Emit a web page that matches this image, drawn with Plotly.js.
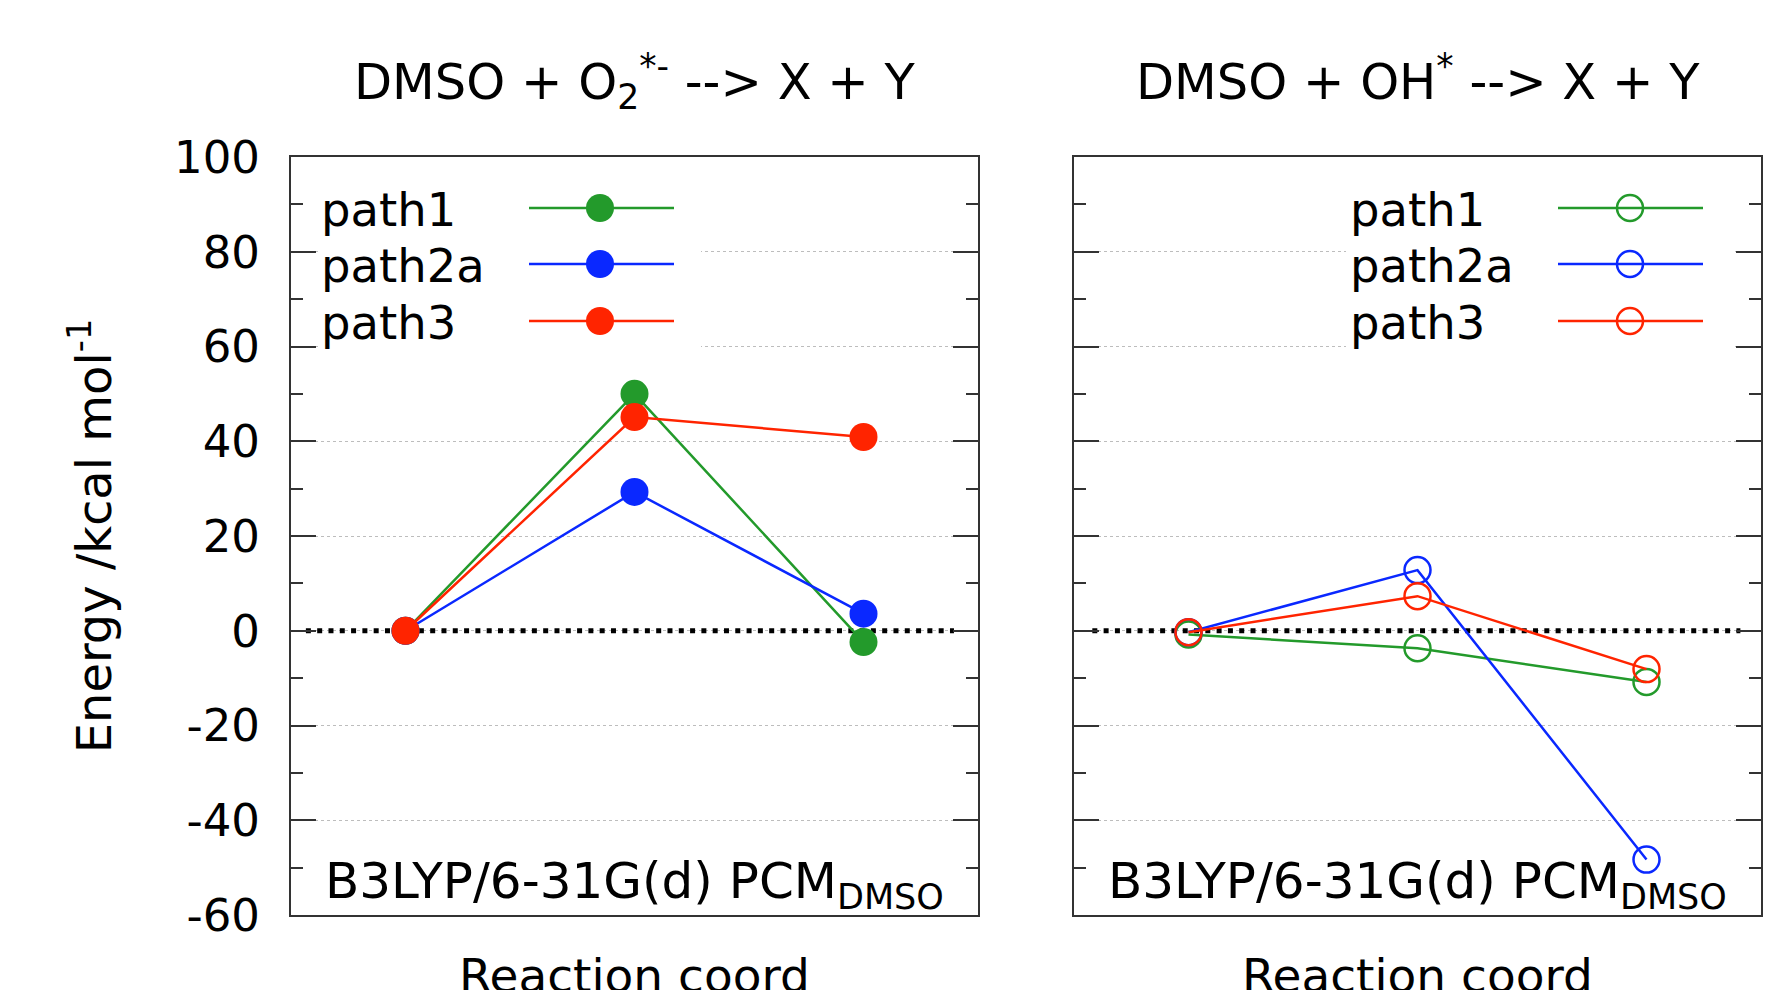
<!DOCTYPE html>
<html>
<head>
<meta charset="utf-8">
<script src="https://cdn.plot.ly/plotly-3.0.1.min.js"></script>
<style>html,body{margin:0;padding:0;background:#fff;}#chart{width:1775px;height:990px;}</style>
</head>
<body>
<div id="chart"></div>
<script>
// ---- data ----
const steps = [1, 2, 3];                       // reaction coordinate positions
const seriesNames = ['path1', 'path2a', 'path3'];
const seriesColors = ['#239a2b', '#0a28ff', '#ff2400'];
// Left panel: DMSO + O2*- --> X + Y  (kcal/mol)
const o2_path1  = [0, 50.0, -2.4];
const o2_path2a = [0, 29.3, 3.6];
const o2_path3  = [0, 45.1, 40.9];
// Right panel: DMSO + OH* --> X + Y  (kcal/mol)
const oh_path1  = [-0.8, -3.7, -10.8];
const oh_path2a = [-0.3, 12.8, -48.3];
const oh_path3  = [-0.3, 7.3, -8.1];
// zero reference line extents
const zeroLeftX  = [0.565, 3.395];
const zeroRightX = [0.58, 3.41];
const zeroY = [0, 0];
const yTickVals = [-60, -40, -20, 0, 20, 40, 60, 80, 100];
const yTickText = ['-60', '-40', '-20', '0', '20', '40', '60', '80', '100'];
const panelTitles = ['DMSO + O<sub>2</sub><sup>*-</sup> --> X + Y', 'DMSO + OH<sup>*</sup> --> X + Y'];
const methodLabel = 'B3LYP/6-31G(d) PCM<sub>DMSO</sub>';
const xTitle = 'Reaction coord';
const yTitle = 'Energy /kcal mol<sup>-1</sup>';

// ---- layout helpers ----
const W = 1775, H = 990;
const px = v => v / W;
const py = v => 1 - v / H;
const FONT = 'DejaVu Sans, Verdana, sans-serif';

const leftSeries = [o2_path1, o2_path2a, o2_path3];
const rightSeries = [oh_path1, oh_path2a, oh_path3];

const traces = [];
traces.push({x: zeroLeftX, y: zeroY, xaxis: 'x', yaxis: 'y', mode: 'lines',
  line: {color: '#000', width: 5, dash: '5px,6.3px'}, hoverinfo: 'skip', showlegend: false});
traces.push({x: zeroRightX, y: zeroY, xaxis: 'x2', yaxis: 'y2', mode: 'lines',
  line: {color: '#000', width: 5, dash: '5px,6.3px'}, hoverinfo: 'skip', showlegend: false});
leftSeries.forEach((s, i) => traces.push({
  x: steps, y: s, xaxis: 'x', yaxis: 'y', mode: 'lines+markers', name: seriesNames[i], showlegend: false,
  line: {color: seriesColors[i], width: 2.5},
  marker: {symbol: 'circle', size: 28, color: seriesColors[i]}
}));
rightSeries.forEach((s, i) => traces.push({
  x: steps, y: s, xaxis: 'x2', yaxis: 'y2', mode: 'lines+markers', name: seriesNames[i], showlegend: false,
  line: {color: seriesColors[i], width: 2.5},
  marker: {symbol: 'circle-open', size: 26, color: seriesColors[i], line: {color: seriesColors[i], width: 2.5}}
}));

const frameColor = '#333';
function xAxis(dom, anchor) {
  return {domain: dom, anchor: anchor, range: [0.5, 3.5], showticklabels: false, ticks: '',
    showgrid: false, zeroline: false, showline: true, mirror: true, linecolor: frameColor, linewidth: 2,
    automargin: false};
}
function yAxis(anchor, labels) {
  const a = {domain: [py(915), py(157)], anchor: anchor, range: [-60, 100],
    tickmode: 'array', tickvals: yTickVals, ticktext: yTickText, showticklabels: labels,
    ticks: 'inside', ticklen: 25, tickwidth: 2, tickcolor: frameColor, mirror: 'ticks',
    showline: true, linecolor: frameColor, linewidth: 2,
    showgrid: true, gridcolor: '#bdbdbd', griddash: 'dot', gridwidth: 1, zeroline: false,
    minor: {dtick: 10, tick0: 0, ticklen: 12, tickwidth: 2, tickcolor: frameColor, ticks: 'inside', showgrid: false},
    tickfont: {size: 45, family: FONT, color: '#000'}, ticklabelstandoff: 20, automargin: false};
  if (labels) a.title = {text: yTitle, font: {size: 48, family: FONT, color: '#000'}, standoff: 47};
  return a;
}

const shapes = [];
const annotations = [];
// legend backgrounds (opaque key boxes hide the grid)
shapes.push({type: 'rect', xref: 'paper', yref: 'paper', x0: px(318), x1: px(701), y0: py(362), y1: py(160),
  fillcolor: '#fff', line: {width: 0}, layer: 'above'});
shapes.push({type: 'rect', xref: 'paper', yref: 'paper', x0: px(1346), x1: px(1735), y0: py(362), y1: py(160),
  fillcolor: '#fff', line: {width: 0}, layer: 'above'});
const legendRows = [208, 264, 321];
const legends = [
  {textX: 319, lineX0: 529, lineX1: 674, markX: 600, open: false},
  {textX: 1348, lineX0: 1558, lineX1: 1703, markX: 1630, open: true}
];
legends.forEach(L => {
  seriesNames.forEach((n, i) => {
    const yy = legendRows[i];
    shapes.push({type: 'line', xref: 'paper', yref: 'paper', x0: px(L.lineX0), x1: px(L.lineX1), y0: py(yy), y1: py(yy),
      line: {color: seriesColors[i], width: 2.5}, layer: 'above'});
    shapes.push({type: 'circle', xref: 'paper', yref: 'paper', xsizemode: 'pixel', ysizemode: 'pixel',
      xanchor: px(L.markX), yanchor: py(yy),
      x0: L.open ? -13 : -14, x1: L.open ? 13 : 14, y0: L.open ? -13 : -14, y1: L.open ? 13 : 14,
      fillcolor: L.open ? 'rgba(0,0,0,0)' : seriesColors[i],
      line: {color: seriesColors[i], width: L.open ? 2.5 : 0}, layer: 'above'});
    annotations.push({xref: 'paper', yref: 'paper', x: px(L.textX), y: py(yy + 2), xanchor: 'left', yanchor: 'middle',
      text: n, showarrow: false, font: {size: 46.5, family: FONT, color: '#000'}});
  });
});
// panel titles
const centers = [634.5, 1417.5];
const titleY = [82, 78.5];
panelTitles.forEach((t, i) => annotations.push({xref: 'paper', yref: 'paper', x: px(centers[i]), y: py(titleY[i]),
  xanchor: 'center', yanchor: 'middle', text: t, showarrow: false, font: {size: 49.5, family: FONT, color: '#000'}}));
// method label inside panels
centers.forEach(c => annotations.push({xref: 'paper', yref: 'paper', x: px(c), y: py(884),
  xanchor: 'center', yanchor: 'middle', text: methodLabel, showarrow: false, font: {size: 50, family: FONT, color: '#000'}}));
// x-axis titles (partly below the picture edge, as in the reference)
centers.forEach(c => annotations.push({xref: 'paper', yref: 'paper', x: px(c), y: py(946),
  xanchor: 'center', yanchor: 'top', text: xTitle, showarrow: false, font: {size: 47, family: FONT, color: '#000'}}));

const layout = {
  width: W, height: H, autosize: false,
  margin: {l: 0, r: 0, t: 0, b: 0, pad: 0},
  paper_bgcolor: '#fff', plot_bgcolor: '#fff',
  font: {family: FONT, color: '#000'},
  showlegend: false,
  xaxis: xAxis([px(291), px(978)], 'y'),
  yaxis: yAxis('x', true),
  xaxis2: xAxis([px(1074), px(1761)], 'y2'),
  yaxis2: yAxis('x2', false),
  shapes: shapes,
  annotations: annotations
};

Plotly.newPlot('chart', traces, layout, {displayModeBar: false, staticPlot: true});
</script>
</body>
</html>
